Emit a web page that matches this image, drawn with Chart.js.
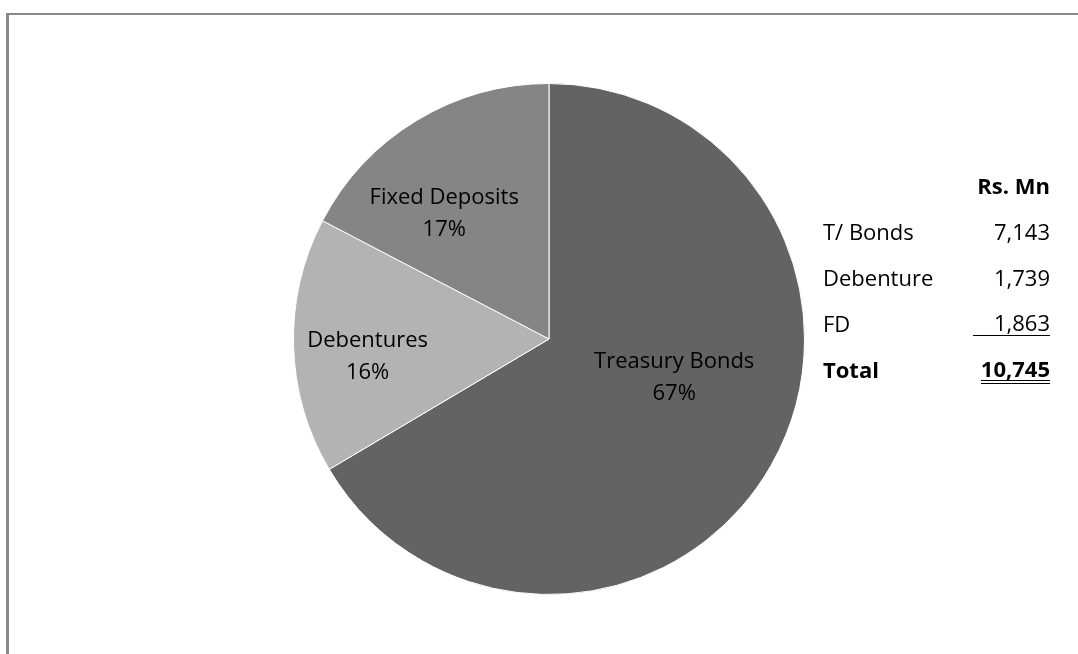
<!DOCTYPE html>
<html>
<head>
<meta charset="utf-8">
<script src="https://cdn.jsdelivr.net/npm/chart.js@4.4.1/dist/chart.umd.min.js"></script>
<style>
  html, body { margin: 0; padding: 0; background: #fff; }
  body { width: 1078px; height: 654px; position: relative; overflow: hidden; font-family: "Open Sans", Lato, sans-serif; }
  #frame { position: absolute; left: 6px; top: 13px; width: 1100px; height: 700px; border-top: 2px solid #888; border-left: 3px solid #888; }
  #wrap { position: absolute; left: 0; top: 0; width: 1078px; height: 654px; }
  #tbl { position: absolute; left: 0; top: 0; width: 1078px; height: 654px; pointer-events: none; }
  .cell { position: absolute; font-size: 22px; color: #000; line-height: 26px; white-space: pre; }
  .lbl { left: 823px; }
  .val { right: 28px; text-align: right; }
  .bold { font-weight: bold; }
</style>
</head>
<body>
<div id="frame"></div>
<div id="wrap"><canvas id="c" width="1078" height="654"></canvas></div>
<div id="tbl"></div>
<script>
// ---- data ----
const categories = ['Treasury Bonds', 'Debentures', 'Fixed Deposits'];
const values = [7143, 1739, 1863];
const pctLabels = ['67%', '16%', '17%'];
const tableLabels = ['T/ Bonds', 'Debenture', 'FD'];
const tableUnit = 'Rs. Mn';
const totalLabel = 'Total';
const totalValue = 10745;

// ---- style ----
const colors = ['#636363', '#b3b3b3', '#858585'];
// label anchor relative to pie center, in fractions of radius
const labelAnchors = [[0.49, 0.15], [-0.71, 0.07], [-0.41, -0.49]];

const fmt = v => v.toLocaleString('en-US');

const labelPlugin = {
  id: 'sliceLabels',
  afterDatasetsDraw(chart) {
    const ctx = chart.ctx;
    const meta = chart.getDatasetMeta(0);
    ctx.save();
    ctx.font = '22px "Open Sans", Lato, sans-serif';
    ctx.fillStyle = '#000';
    ctx.textAlign = 'center';
    ctx.textBaseline = 'middle';
    meta.data.forEach((arc, i) => {
      const r = arc.outerRadius;
      const x = arc.x + labelAnchors[i][0] * r;
      const y = arc.y + labelAnchors[i][1] * r;
      ctx.fillText(categories[i], x, y - 16);
      ctx.fillText(pctLabels[i], x, y + 16);
    });
    ctx.restore();
  }
};

new Chart(document.getElementById('c'), {
  type: 'pie',
  data: {
    labels: categories,
    datasets: [{
      data: values,
      backgroundColor: colors,
      borderColor: '#ffffff',
      borderWidth: 1
    }]
  },
  options: {
    responsive: false,
    animation: false,
    events: [],
    layout: { padding: { top: 83, bottom: 59, left: 293, right: 273 } },
    plugins: { legend: { display: false }, tooltip: { enabled: false } }
  },
  plugins: [labelPlugin]
});

// ---- side table ----
const tbl = document.getElementById('tbl');
function cell(text, cls, top, extra) {
  const d = document.createElement('div');
  d.className = 'cell ' + cls;
  d.style.top = top + 'px';
  d.textContent = text;
  if (extra) Object.assign(d.style, extra);
  tbl.appendChild(d);
  return d;
}
const rowTop = 172;
const rowStep = 46;
cell(tableUnit, 'val bold', rowTop);
tableLabels.forEach((l, i) => {
  const top = rowTop + rowStep * (i + 1);
  cell(l, 'lbl', top);
  const last = i === tableLabels.length - 1;
  cell(fmt(values[i]), 'val', top, last ? { borderBottom: '1.5px solid #000', width: '77px', lineHeight: '25px' } : null);
});
const tTop = rowTop + rowStep * (tableLabels.length + 1);
cell(totalLabel, 'lbl bold', tTop);
cell(fmt(totalValue), 'val bold', tTop, { borderBottom: '4px double #000', lineHeight: '24px' });
</script>
</body>
</html>
